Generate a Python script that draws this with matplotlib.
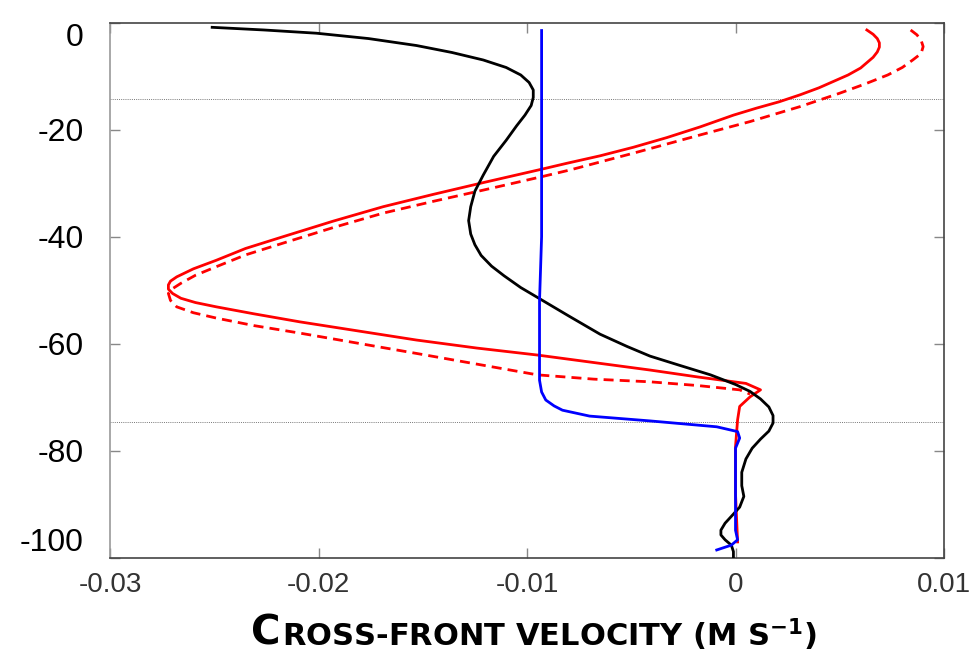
import matplotlib.pyplot as plt

plt.rcParams['font.family'] = ['Liberation Sans', 'DejaVu Sans']
plt.rcParams['mathtext.default'] = 'regular'
plt.rcParams['axes.unicode_minus'] = False

# black profile
black_depth = [-0.9, -1.4, -2.0, -3.0, -4.3, -5.6, -7.0, -8.4, -9.8, -11.2, -12.6, -14.0, -15.5,
               -17.3, -19.3, -22.0, -25.0, -28.5, -31.5, -34.4, -37.0, -39.5, -41.5, -43.5,
               -45.5, -47.3, -49.5, -51.8, -54.8, -58.2, -60.5, -62.3, -64.0, -65.8, -67.6,
               -68.9, -70.3, -71.8, -73.4, -74.8, -76.3, -77.8, -79.5, -81.5, -84.0, -86.5,
               -88.5, -90.5, -91.8, -93.5, -94.8, -95.7, -96.6, -97.6, -98.8, -100.0]
black_vel = [-0.0251, -0.0226, -0.0201, -0.0176, -0.0153, -0.0136, -0.0121, -0.0110, -0.0103,
             -0.0099, -0.0097, -0.0097, -0.0098, -0.0101, -0.0105, -0.0110, -0.0116, -0.0121,
             -0.0125, -0.0127, -0.0128, -0.0127, -0.0125, -0.0122, -0.0117, -0.0111, -0.0103,
             -0.0093, -0.0080, -0.0065, -0.0052, -0.0041, -0.0027, -0.0012, 0.0000, 0.0007,
             0.0012, 0.0016, 0.0018, 0.0018, 0.0016, 0.0012, 0.0008, 0.0005, 0.0003, 0.0003,
             0.0004, 0.0002, -0.0001, -0.0005, -0.0007, -0.0007, -0.0005, -0.0002, -0.0001,
             -0.0001]

# red solid profile
red_depth = [-1.4, -2.2, -3.0, -3.8, -4.6, -5.5, -6.5, -7.5, -8.5, -9.8, -11.0, -12.2, -13.5,
             -14.8, -16.0, -17.3, -19.5, -21.5, -23.3, -24.9, -26.3, -27.4, -29.9, -32.1,
             -34.4, -37.1, -40.0, -42.2, -44.4, -46.0, -47.5, -48.3, -49.0, -49.8, -50.6,
             -51.5, -52.3, -53.1, -54.4, -55.9, -57.6, -59.3, -60.8, -62.1, -63.5, -64.9,
             -66.2, -67.4, -68.6, -69.9, -71.7, -74.2, -79.2, -88.0, -97.0]
red_vel = [0.0063, 0.0066, 0.0068, 0.0069, 0.0069, 0.0068, 0.0066, 0.0063, 0.0060, 0.0054, 0.0047,
           0.0040, 0.0031, 0.0021, 0.0010, -0.0001, -0.0017, -0.0033, -0.0049, -0.0065, -0.0081,
           -0.0093, -0.0121, -0.0145, -0.0169, -0.0193, -0.0217, -0.0235, -0.0249, -0.0260,
           -0.0268, -0.0271, -0.0272, -0.0272, -0.0270, -0.0266, -0.0259, -0.0249, -0.0231,
           -0.0209, -0.0181, -0.0153, -0.0124, -0.0095, -0.0068, -0.0041, -0.0018, 0.0005,
           0.0012, 0.0007, 0.0002, 0.0001, 0.0000, 0.0000, 0.0001]

# red dashed profile
dash_depth = [-1.4, -2.3, -3.3, -4.5, -5.8, -7.0, -8.4, -9.8, -11.5, -13.2, -15.7, -18.5, -21.0,
              -24.3, -27.5, -28.8, -31.3, -33.4, -35.6, -38.3, -41.2, -43.4, -45.6, -47.2,
              -48.7, -49.7, -50.6, -51.9, -53.1, -54.2, -55.2, -56.6, -58.0, -59.9, -61.8,
              -63.8, -65.8, -66.6, -67.1, -67.8, -68.6, -69.4]
dash_vel = [0.0084, 0.0087, 0.0089, 0.0090, 0.0089, 0.0085, 0.0080, 0.0073, 0.0062, 0.0050, 0.0031,
            0.0007, -0.0017, -0.0048, -0.0079, -0.0093, -0.0121, -0.0145, -0.0169, -0.0193,
            -0.0217, -0.0235, -0.0249, -0.0259, -0.0266, -0.0270, -0.0272, -0.0271, -0.0268,
            -0.0260, -0.0249, -0.0231, -0.0209, -0.0181, -0.0153, -0.0124, -0.0095, -0.0068,
            -0.0041, -0.0018, 0.0002, 0.0007]

# blue profile
blue_depth = [-1.5, -20.0, -40.0, -52.0, -62.4, -66.8, -69.0, -70.5, -71.6, -72.4, -73.5, -74.4,
              -75.5, -76.4, -77.6, -79.5, -85.4, -94.8, -96.6, -97.6, -98.5]
blue_vel = [-0.0093, -0.0093, -0.0093, -0.0094, -0.0094, -0.0094, -0.0093, -0.0091, -0.0087,
            -0.0083, -0.0070, -0.0041, -0.0009, 0.0001, 0.0002, 0.0000, 0.0000, 0.0000, 0.0001,
            -0.0002, -0.0009]

# reference depths (dotted lines)
ref_depths = [-14.3, -74.6]

x_ticks = [-0.03, -0.02, -0.01, 0, 0.01]
x_ticklabels = ['-0.03', '-0.02', '-0.01', '0', '0.01']
y_ticks = [0, -20, -40, -60, -80, -100]
y_ticklabels = ['0', '-20', '-40', '-60', '-80', '-100']

fig = plt.figure(figsize=(9.71, 6.56), dpi=100)
ax = fig.add_axes([0.1133, 0.1494, 0.8589, 0.8163])

for d in ref_depths:
    ax.axhline(d, color='#777777', lw=0.7, ls=(0, (1, 1.2)), zorder=1)

ax.plot(dash_vel, dash_depth, color='#ff0000', lw=2.0, ls=(0, (3.6, 2.2)), zorder=3)
ax.plot(red_vel, red_depth, color='#ff0000', lw=2.0, zorder=3)
ax.plot(black_vel, black_depth, color='black', lw=2.0, zorder=4)
ax.plot(blue_vel, blue_depth, color='#0000ff', lw=2.0, zorder=5)

ax.set_xlim(-0.03, 0.01)
ax.set_ylim(-100, 0)
ax.set_xticks(x_ticks)
ax.set_xticklabels(x_ticklabels)
ax.set_yticks(y_ticks)
ax.set_yticklabels(y_ticklabels)

ax.tick_params(axis='both', direction='in', length=7, width=1, color='#888888',
               top=True, right=True)
ax.tick_params(axis='x', labelsize=20, labelcolor='#333333', pad=10)
ax.tick_params(axis='y', labelsize=23, labelcolor='black', pad=19)

for s in ax.spines.values():
    s.set_color('#444444')
    s.set_linewidth(1.2)
ax.spines['left'].set_color('#999999')

# 边界刻度标签往里收
ylabels = ax.get_yticklabels()
ylabels[0].set_va('top')
ylabels[-1].set_va('bottom')

# 小型大写字母的 x 轴标题
c_txt = fig.text(0.258, 0.018, 'C', fontsize=29, fontweight='bold',
                 family=['DejaVu Sans'], ha='left', va='baseline')
ax.annotate('ROSS-FRONT VELOCITY (M S$^{-1}$)', xy=(1.0, 0.0), xycoords=c_txt,
            xytext=(1.5, 0), textcoords='offset points',
            fontsize=22, fontweight='bold', family=['DejaVu Sans'],
            ha='left', va='bottom', annotation_clip=False)

plt.savefig('out.png', dpi=100)
